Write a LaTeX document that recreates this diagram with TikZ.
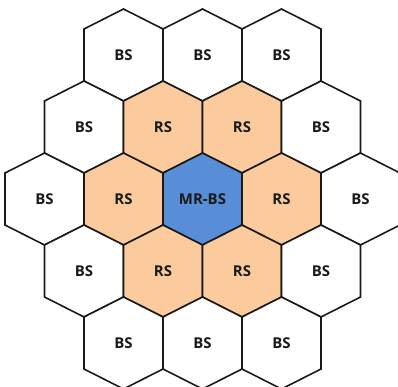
\documentclass[tikz,border=0pt]{standalone}
\usepackage{fontspec}
\setmainfont{Open Sans}
\definecolor{rsfill}{RGB}{251,203,158}
\definecolor{mrfill}{RGB}{88,142,216}
\begin{document}
\begin{tikzpicture}[x=1bp, y=-1bp]
            {
                \tikzset{lbl/.style = {font=\fontsize{15}{18}\selectfont\bfseries, text=black!90},
                         pics/cell/.style args={#1/#2}{code={
                             \path[draw=black!90, line width=1.6bp, fill=#1] (0,-46) -- (39.5,-26) -- (39.5,26) -- (0,46) -- (-39.5,26) -- (-39.5,-26) -- cycle;
                             \node[lbl] (-t) at (0,0) {#2};
                         }}}

                \useasboundingbox (0,0) rectangle (398,387);

                \pic (1) at (123.5, 55) {cell=white/BS};
                \pic (2) at (202.5, 55) {cell=white/BS};
                \pic (3) at (281.5, 55) {cell=white/BS};

                \pic (4) at (84, 127) {cell=white/BS};
                \pic (5) at (163, 127) {cell=rsfill/RS};
                \pic (6) at (242, 127) {cell=rsfill/RS};
                \pic (7) at (321, 127) {cell=white/BS};

                \pic (8) at (44.5, 199) {cell=white/BS};
                \pic (9) at (123.5, 199) {cell=rsfill/RS};
                \pic (10) at (202.5, 199) {cell=mrfill/MR-BS};
                \pic (11) at (281.5, 199) {cell=rsfill/RS};
                \pic (12) at (360.5, 199) {cell=white/BS};

                \pic (13) at (84, 271) {cell=white/BS};
                \pic (14) at (163, 271) {cell=rsfill/RS};
                \pic (15) at (242, 271) {cell=rsfill/RS};
                \pic (16) at (321, 271) {cell=white/BS};

                \pic (17) at (123.5, 343) {cell=white/BS};
                \pic (18) at (202.5, 343) {cell=white/BS};
                \pic (19) at (281.5, 343) {cell=white/BS};
            }

        \end{tikzpicture}
\end{document}
